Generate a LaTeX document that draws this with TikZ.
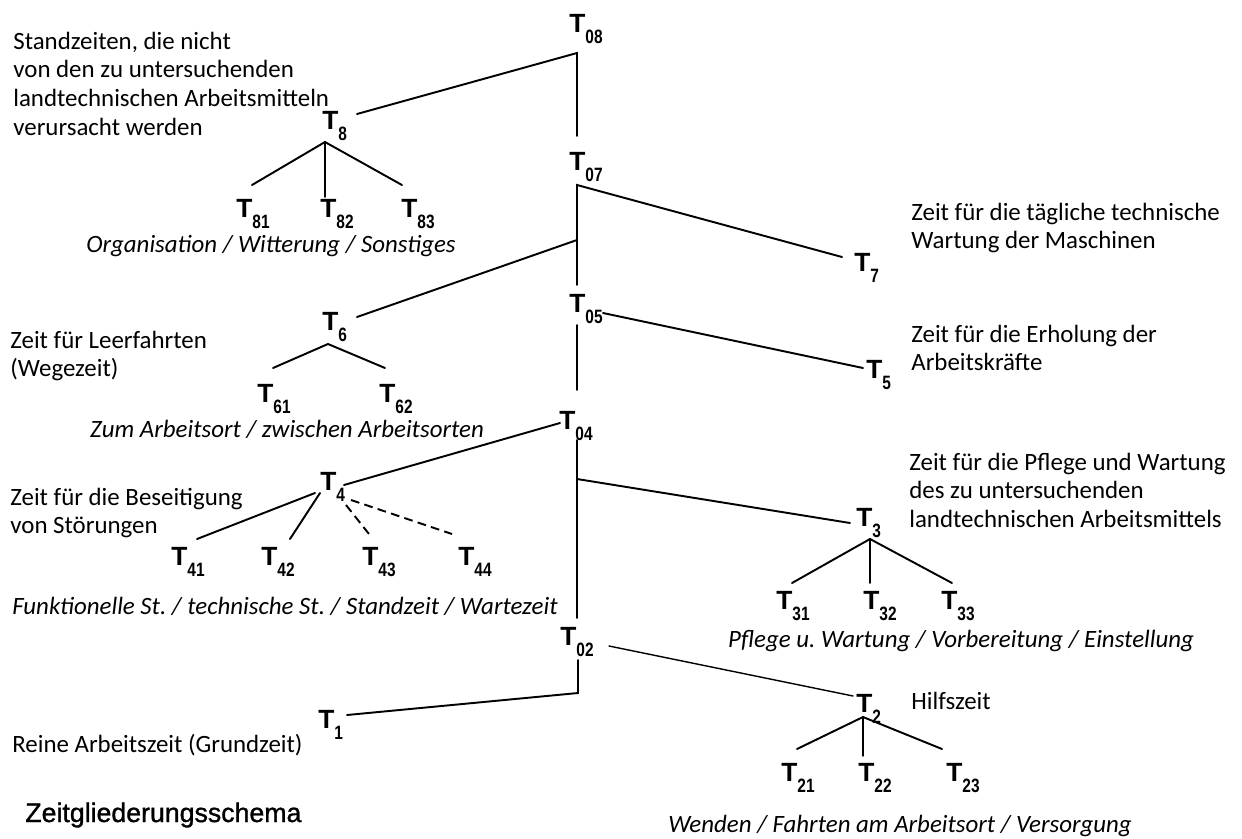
\documentclass[tikz,border=0pt]{standalone}
\usepackage{fontspec}
\setmainfont{Carlito}
\newfontfamily\tfnt{Liberation Sans}
\newfontfamily\sfnt[FakeStretch=0.8]{Liberation Sans}
\newfontfamily\titlefnt[FakeBold=1.2]{Liberation Sans}
\newcommand{\Tl}[1]{{\tfnt\bfseries\fontsize{15pt}{15pt}\selectfont T}\raisebox{-6.4pt}{\sfnt\bfseries\fontsize{11pt}{11pt}\selectfont #1}}
\newcommand{\ml}[1]{\begin{tabular}[t]{@{}l@{}}#1\end{tabular}}
\frenchspacing
\begin{document}
\begin{tikzpicture}[x=0.02cm,y=-0.02cm,
  tl/.style={inner sep=0pt,anchor=base west},
  lab/.style={inner sep=0pt,anchor=base west,font=\fontsize{14.17pt}{16.44pt}\selectfont},
  itl/.style={inner sep=0pt,anchor=base,font=\fontsize{14.17pt}{16.44pt}\selectfont\itshape},
  edge/.style={line width=1.1pt,line cap=round},
  thinedge/.style={line width=0.8pt,line cap=round},
  dashedge/.style={line width=1.1pt,dash pattern=on 5pt off 3pt}]
\useasboundingbox (0,0) rectangle (1242,839);
% T labels
\node[tl] (t08) at (569,32) {\Tl{08}};
\node[tl] (t8) at (322,129) {\Tl{8}};
\node[tl] (t81) at (236,217) {\Tl{81}};
\node[tl] (t82) at (320,217) {\Tl{82}};
\node[tl] (t83) at (401,217) {\Tl{83}};
\node[tl] (t07) at (569,170) {\Tl{07}};
\node[tl] (t7) at (854,271) {\Tl{7}};
\node[tl] (t6) at (322,330) {\Tl{6}};
\node[tl] (t61) at (257,402) {\Tl{61}};
\node[tl] (t62) at (379,402) {\Tl{62}};
\node[tl] (t05) at (569,312) {\Tl{05}};
\node[tl] (t5) at (866,378) {\Tl{5}};
\node[tl] (t04) at (559,429) {\Tl{04}};
\node[tl] (t4) at (320,490) {\Tl{4}};
\node[tl] (t41) at (171,565) {\Tl{41}};
\node[tl] (t42) at (261,565) {\Tl{42}};
\node[tl] (t43) at (362,565) {\Tl{43}};
\node[tl] (t44) at (458,565) {\Tl{44}};
\node[tl] (t3) at (856,526) {\Tl{3}};
\node[tl] (t31) at (776,609) {\Tl{31}};
\node[tl] (t32) at (863,609) {\Tl{32}};
\node[tl] (t33) at (941,609) {\Tl{33}};
\node[tl] (t02) at (560,645) {\Tl{02}};
\node[tl] (t1) at (318,728) {\Tl{1}};
\node[tl] (t2) at (856,712) {\Tl{2}};
\node[tl] (t21) at (781,781) {\Tl{21}};
\node[tl] (t22) at (858,781) {\Tl{22}};
\node[tl] (t23) at (946,781) {\Tl{23}};
% descriptions
\node[lab] (d8) at (13,49) {\ml{Standzeiten, die nicht\\von den zu untersuchenden\\landtechnischen Arbeitsmitteln\\verursacht werden}};
\node[itl] (c8) at (271,252) {Organisation / Witterung / Sonstiges};
\node[lab] (d7) at (911,220) {\ml{Zeit für die tägliche technische\\Wartung der Maschinen}};
\node[lab] (d6) at (10,348) {\ml{Zeit für Leerfahrten\\(Wegezeit)}};
\node[itl] (c6) at (287,437) {Zum Arbeitsort / zwischen Arbeitsorten};
\node[lab] (d5) at (911,342) {\ml{Zeit für die Erholung der\\Arbeitskräfte}};
\node[lab] (d4) at (10,505) {\ml{Zeit für die Beseitigung\\von Störungen}};
\node[itl] (c4) at (285,614) {Funktionelle St. / technische St. / Standzeit / Wartezeit};
\node[lab] (d3) at (909,470) {\ml{Zeit für die Pflege und Wartung\\des zu untersuchenden\\landtechnischen Arbeitsmittels}};
\node[itl] (c3) at (961,647) {Pflege u. Wartung / Vorbereitung / Einstellung};
\node[lab] (d2) at (911,709) {Hilfszeit};
\node[itl] (c2) at (900,832) {Wenden / Fahrten am Arbeitsort / Versorgung};
\node[lab] (d1) at (12,752) {Reine Arbeitszeit (Grundzeit)};
\node[inner sep=0pt,anchor=base west,font=\titlefnt\fontsize{15.2pt}{15.2pt}\selectfont] (title) at (25,822) {Zeitgliederungsschema};
% connector points
\coordinate (j08) at (577,53);
\coordinate (e8) at (357,114);
\coordinate (e07) at (577,136);
\coordinate (a8) at (325,142);
\coordinate (e81) at (252,185);
\coordinate (e82) at (325,197);
\coordinate (e83) at (402,185);
\coordinate (j07) at (577,185);
\coordinate (e7) at (842,257);
\coordinate (j6) at (577,240);
\coordinate (e6) at (357,317);
\coordinate (e05) at (577,285);
\coordinate (a6) at (328,344);
\coordinate (e61) at (273,368);
\coordinate (e62) at (385,368);
\coordinate (s05) at (603,313);
\coordinate (e5) at (863,368);
\coordinate (b05) at (577,325);
\coordinate (e04) at (577,390);
\coordinate (s04) at (560,423);
\coordinate (e4) at (344,485);
\coordinate (b04) at (577,440);
\coordinate (e02) at (577,618);
\coordinate (j3) at (577,479);
\coordinate (e3) at (850,523);
\coordinate (a41) at (315,493);
\coordinate (e41) at (197,539);
\coordinate (a42) at (320,493);
\coordinate (e42) at (290,539);
\coordinate (a43) at (346,505);
\coordinate (e43) at (369,534);
\coordinate (a44) at (351,500);
\coordinate (e44) at (452,534);
\coordinate (a3) at (870,539);
\coordinate (e31) at (792,583);
\coordinate (e32) at (870,583);
\coordinate (e33) at (952,583);
\coordinate (s02) at (609,646);
\coordinate (e2) at (853,696);
\coordinate (b02) at (578,660);
\coordinate (j1) at (578,693);
\coordinate (e1) at (347,715);
\coordinate (a2) at (863,717);
\coordinate (e21) at (797,749);
\coordinate (e22) at (863,756);
\coordinate (e23) at (942,749);
% connectors
\draw[edge] (e8) -- (j08) -- (e07);
\draw[edge] (e81) -- (a8) -- (e83);
\draw[edge] (a8) -- (e82);
\draw[edge] (e7) -- (j07) -- (e05);
\draw[edge] (j6) -- (e6);
\draw[edge] (e61) -- (a6) -- (e62);
\draw[edge] (s05) -- (e5);
\draw[edge] (b05) -- (e04);
\draw[edge] (s04) -- (e4);
\draw[edge] (b04) -- (e02);
\draw[edge] (j3) -- (e3);
\draw[edge] (a41) -- (e41);
\draw[edge] (a42) -- (e42);
\draw[dashedge] (a43) -- (e43);
\draw[dashedge] (a44) -- (e44);
\draw[edge] (e31) -- (a3) -- (e33);
\draw[edge] (a3) -- (e32);
\draw[thinedge] (s02) -- (e2);
\draw[edge] (b02) -- (j1) -- (e1);
\draw[edge] (e21) -- (a2) -- (e23);
\draw[thinedge] (a2) -- (e22);
\end{tikzpicture}
\end{document}
